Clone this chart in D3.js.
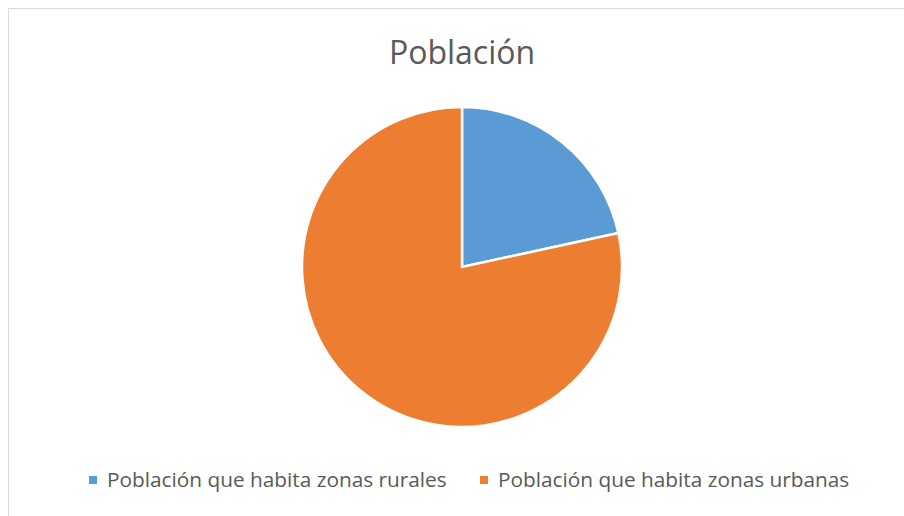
<!DOCTYPE html>
<html>
<head>
<meta charset="utf-8">
<script src="https://cdn.jsdelivr.net/npm/d3@7"></script>
<style>
  body { margin: 0; background: #fff; }
  svg { display: block; font-family: "Open Sans", sans-serif; }
</style>
</head>
<body>
<svg id="chart"></svg>
<script>
// data
const categories = ["Población que habita zonas rurales", "Población que habita zonas urbanas"];
const values = [21.6, 78.4];
const colors = ["#5B9BD5", "#ED7D31"];
const title = "Población";

const width = 904, height = 516;

const svg = d3.select("#chart")
    .attr("width", width)
    .attr("height", height);

// chart area border
svg.append("rect")
    .attr("x", 8.5).attr("y", 8.5)
    .attr("width", width).attr("height", height)
    .attr("fill", "#fff")
    .attr("stroke", "#d9d9d9")
    .attr("stroke-width", 1);

// title
svg.append("text")
    .attr("x", 462)
    .attr("y", 64)
    .attr("text-anchor", "middle")
    .style("font-size", "32px")
    .style("fill", "#595959")
    .text(title);

// pie
const cx = 462, cy = 267, r = 160;
const pie = d3.pie().sort(null).value(d => d)(values);
const arc = d3.arc().innerRadius(0).outerRadius(r);

const g = svg.append("g").attr("transform", `translate(${cx},${cy})`);
g.selectAll("path")
    .data(pie)
    .enter()
    .append("path")
    .attr("d", arc)
    .attr("fill", (d, i) => colors[i])
    .attr("stroke", "#fff")
    .attr("stroke-width", 2.5)
    .attr("stroke-linejoin", "miter");

// legend
const legendX = [89, 480];
const legend = svg.selectAll(".legend")
    .data(categories)
    .enter()
    .append("g")
    .attr("class", "legend")
    .attr("transform", (d, i) => `translate(${legendX[i]}, 476)`);

legend.append("rect")
    .attr("width", 8).attr("height", 8)
    .attr("fill", (d, i) => colors[i]);

legend.append("text")
    .attr("x", 18)
    .attr("y", 11)
    .style("font-size", "20.8px")
    .style("fill", "#595959")
    .text(d => d);
</script>
</body>
</html>
